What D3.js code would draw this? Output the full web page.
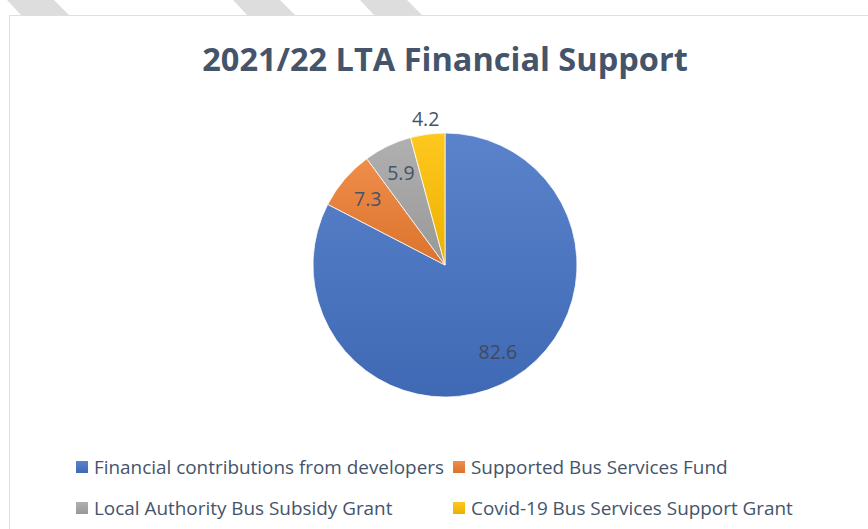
<!DOCTYPE html>
<html>
<head>
  <meta charset="utf-8">
  <script src="https://d3js.org/d3.v7.min.js"></script>
  <style>
    body { margin: 0; background: #fff; }
    svg text { font-family: "Open Sans", "Noto Sans", sans-serif; }
  </style>
</head>
<body>
<script>
  // chart data
  var categories = ["Financial contributions from developers", "Supported Bus Services Fund",
                    "Local Authority Bus Subsidy Grant", "Covid-19 Bus Services Support Grant"];
  var values = [82.6, 7.3, 5.9, 4.2];
  var colours = ["#4472C4", "#ED7D31", "#A5A5A5", "#FFC000"];
  var title = "2021/22 LTA Financial Support";

  var width = 868, height = 529;
  var cx = 445, cy = 265, radius = 132;

  var svg = d3.select("body").append("svg")
      .attr("width", width)
      .attr("height", height);

  // slanted stripes above the frame (slide decoration)
  [7, 233, 360].forEach(function (x0) {
    svg.append("path")
      .attr("d", "M" + x0 + ",0 L" + (x0 + 47) + ",0 L" + (x0 + 62) + ",15 L" + (x0 + 14) + ",15 Z")
      .attr("fill", "#DDDDDD");
  });

  // chart frame
  svg.append("rect")
    .attr("x", 9.5).attr("y", 15.5)
    .attr("width", 880).attr("height", 540)
    .attr("fill", "#fff")
    .attr("stroke", "#DCDFE8");

  // gradients, lighter at the top like office fills
  var defs = svg.append("defs");
  colours.forEach(function (c, i) {
    var g = defs.append("linearGradient")
      .attr("id", "grad" + i)
      .attr("x1", 0).attr("y1", 0).attr("x2", 0).attr("y2", 1);
    g.append("stop").attr("offset", "0%").attr("stop-color", d3.interpolateRgb(c, "#fff")(0.12));
    g.append("stop").attr("offset", "100%").attr("stop-color", d3.interpolateRgb(c, "#000")(0.08));
  });

  svg.append("text")
    .attr("x", 445).attr("y", 71)
    .attr("text-anchor", "middle")
    .attr("font-size", 32.5)
    .attr("font-weight", "bold")
    .attr("fill", "#44546A")
    .text(title);

  var data = categories.map(function (c, i) { return { name: c, value: values[i], i: i }; });

  var pie = d3.pie().sort(null).value(function (d) { return d.value; });
  var arcs = pie(data);
  var arc = d3.arc().innerRadius(0).outerRadius(radius);
  var labelArc = d3.arc().innerRadius(radius * 0.77).outerRadius(radius * 0.77);
  var outerLabelArc = d3.arc().innerRadius(radius + 15).outerRadius(radius + 15);

  var g = svg.append("g").attr("transform", "translate(" + cx + "," + cy + ")");

  g.selectAll("path.slice")
    .data(arcs)
    .enter().append("path")
      .attr("class", "slice")
      .attr("d", arc)
      .attr("fill", function (d) { return "url(#grad" + d.data.i + ")"; })
      .attr("stroke", "#fff")
      .attr("stroke-width", 0.75);

  g.selectAll("text.lbl")
    .data(arcs)
    .enter().append("text")
      .attr("class", "lbl")
      .attr("transform", function (d) {
        var small = d.data.value < 5;
        var p = (small ? outerLabelArc : labelArc).centroid(d);
        return "translate(" + p[0] + "," + p[1] + ")";
      })
      .attr("text-anchor", "middle")
      .attr("dy", "0.35em")
      .attr("font-size", 19.5)
      .attr("fill", function (d) { return d.data.i === 0 ? "#404A5C" : "#44546A"; })
      .text(function (d) { return d.data.value; });

  // legend, two columns
  var legX = [76, 453], legY = [467, 508];
  var leg = svg.selectAll("g.leg")
    .data(data)
    .enter().append("g")
      .attr("class", "leg")
      .attr("transform", function (d) {
        return "translate(" + legX[d.i % 2] + "," + legY[Math.floor(d.i / 2)] + ")";
      });
  leg.append("rect")
    .attr("x", 0).attr("y", -6)
    .attr("width", 12).attr("height", 12)
    .attr("fill", function (d) { return "url(#grad" + d.i + ")"; });
  leg.append("text")
    .attr("x", 18)
    .attr("dy", "0.35em")
    .attr("font-size", 18.9)
    .attr("fill", "#44546A")
    .text(function (d) { return d.name; });
</script>
</body>
</html>
